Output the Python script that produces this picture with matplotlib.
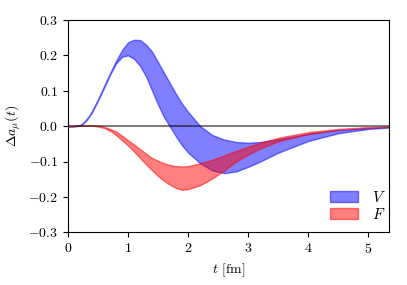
import numpy as np
import matplotlib
matplotlib.use("Agg")
import matplotlib.pyplot as plt

plt.rcParams['font.family'] = 'serif'
plt.rcParams['font.serif'] = ['cmr10']
plt.rcParams['mathtext.fontset'] = 'cm'
plt.rcParams['axes.formatter.use_mathtext'] = True
plt.rcParams['font.size'] = 10

# valeurs
t = [0, 0.1, 0.15, 0.2, 0.25, 0.3, 0.35, 0.4, 0.5, 0.6, 0.7, 0.8, 0.9, 1.0, 1.1, 1.2,
     1.3, 1.4, 1.5, 1.6, 1.7, 1.8, 1.9, 2.0, 2.2, 2.4, 2.6, 2.8, 3.0, 3.2, 3.5, 4.0,
     4.5, 5.0, 5.35]

V_haut = [0, 0.0, 0.001, 0.003, 0.009, 0.018, 0.029, 0.043, 0.076, 0.113, 0.15, 0.184,
          0.215, 0.237, 0.244, 0.243, 0.23, 0.21, 0.18, 0.15, 0.12, 0.09, 0.063, 0.04,
          0.0, -0.025, -0.038, -0.045, -0.047, -0.045, -0.037, -0.022, -0.011, -0.005,
          -0.002]
V_bas = [0, 0.0, 0.001, 0.002, 0.007, 0.015, 0.026, 0.039, 0.072, 0.108, 0.145, 0.177,
         0.196, 0.2, 0.19, 0.17, 0.14, 0.1, 0.06, 0.025, -0.002, -0.03, -0.055, -0.075,
         -0.105, -0.125, -0.133, -0.128, -0.115, -0.1, -0.075, -0.042, -0.02, -0.008,
         -0.004]

F_haut = [0, 0.0, 0.001, 0.001, 0.002, 0.002, 0.002, 0.002, 0.001, -0.002, -0.008,
          -0.015, -0.027, -0.04, -0.052, -0.065, -0.078, -0.09, -0.098, -0.105, -0.11,
          -0.113, -0.114, -0.113, -0.105, -0.095, -0.083, -0.07, -0.058, -0.047, -0.033,
          -0.017, -0.008, -0.003, -0.002]
F_bas = [0, 0.0, 0.0, 0.001, 0.001, 0.001, 0.001, 0.001, -0.001, -0.005, -0.013,
         -0.025, -0.04, -0.055, -0.072, -0.09, -0.108, -0.125, -0.141, -0.155, -0.166,
         -0.175, -0.18, -0.178, -0.167, -0.148, -0.125, -0.1, -0.08, -0.063, -0.043,
         -0.022, -0.01, -0.004, -0.002]

fig = plt.figure(figsize=(4.07, 2.85), dpi=100)
ax = fig.add_axes([0.167, 0.185, 0.79, 0.745])

ax.fill_between(t, V_bas, V_haut, color='blue', alpha=0.5, label=r'$V$')
ax.fill_between(t, F_bas, F_haut, color='red', alpha=0.5, label=r'$F$')
ax.axhline(0, color='k', alpha=0.5, lw=1.5)

ax.set_xlim(0, 5.35)
ax.set_ylim(-0.3, 0.3)
ax.set_xticks([0, 1, 2, 3, 4, 5])
ax.set_yticks([-0.3, -0.2, -0.1, 0.0, 0.1, 0.2, 0.3])
ax.set_xlabel(r'$t$ [fm]')
ax.set_ylabel(r'$\Delta a_\mu(t)$')
ax.legend(loc='upper left', bbox_to_anchor=(0.773, 0.266), frameon=False,
          labelspacing=0.15, handlelength=1.83, handletextpad=0.9, prop={'size': 11})

fig.savefig('out.png', dpi=100)
